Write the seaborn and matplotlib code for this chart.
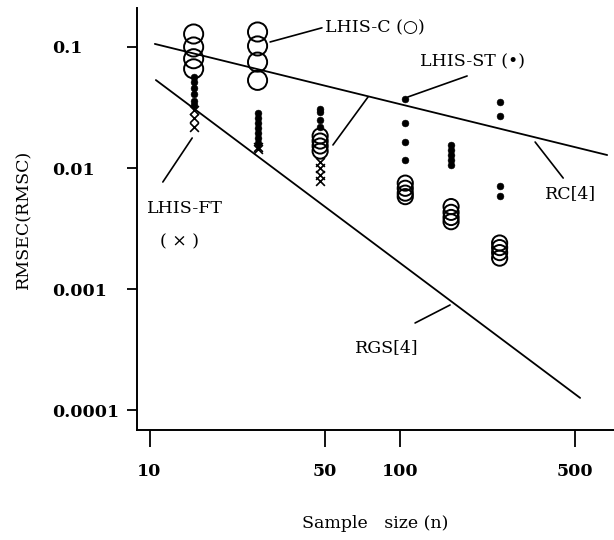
import numpy as np
import pandas as pd
import seaborn as sns
import matplotlib.pyplot as plt

# sample sizes of the six groups
n_groups = [15, 27, 48, 105, 160, 250]

# LHIS-C (open circles)
lhis_c_n = [15, 15, 15, 15, 27, 27, 27, 27, 48, 48, 48, 48,
            105, 105, 105, 105, 160, 160, 160, 160, 250, 250, 250, 250]
lhis_c_val = [0.128, 0.100, 0.080, 0.066, 0.133, 0.102, 0.075, 0.053,
              0.0184, 0.0167, 0.0152, 0.0138, 0.0075, 0.0068, 0.0062, 0.0058,
              0.0048, 0.0043, 0.0039, 0.0036, 0.0024, 0.0022, 0.0020, 0.0018]

# LHIS-ST (filled dots)
lhis_st_n = [15, 15, 15, 15, 15, 15,
             27, 27, 27, 27, 27, 27, 27,
             48, 48, 48, 48,
             105, 105, 105, 105,
             160, 160, 160, 160, 160,
             250, 250, 250, 250]
lhis_st_val = [0.057, 0.051, 0.046, 0.041, 0.036, 0.033,
               0.0285, 0.0259, 0.0235, 0.0214, 0.0195, 0.0177, 0.0161,
               0.031, 0.029, 0.025, 0.022,
               0.037, 0.0235, 0.0164, 0.0116,
               0.0155, 0.0141, 0.0128, 0.0116, 0.0106,
               0.035, 0.027, 0.0071, 0.0059]

# LHIS-FT (crosses)
lhis_ft_n = [15, 15, 15, 27, 27, 48, 48, 48, 48]
lhis_ft_val = [0.030, 0.026, 0.022, 0.015, 0.0143, 0.0112, 0.0100, 0.0088, 0.0078]

# reference lines
rc_n = [10.5, 672]
rc_val = [0.106, 0.0128]
rgs_n = [10.6, 524]
rgs_val = [0.0533, 0.000126]

x_ticks = [10, 50, 100, 500]
x_ticklabels = ["10", "50", "100", "500"]
y_ticks = [0.1, 0.01, 0.001, 0.0001]
y_ticklabels = ["0.1", "0.01", "0.001", "0.0001"]

# labels: (text, x, y)
labels = [
    ("LHIS-C (○)", 50.2, 0.144),
    ("LHIS-ST (•)", 120, 0.0752),
    ("RC[4]", 380, 0.0062),
    ("LHIS-FT", 9.77, 0.00467),
    ("( × )", 11.0, 0.00244),
    ("RGS[4]", 66.2, 0.000325),
]
# leader lines: ((x0, y0), (x1, y1))
leaders = [
    ((30.3, 0.110), (48.8, 0.144)),
    ((54.0, 0.0155), (74.6, 0.0387)),
    ((107.8, 0.0387), (185.4, 0.0576)),
    ((346.5, 0.0164), (448.5, 0.00826)),
    ((11.3, 0.00766), (14.8, 0.0177)),
    ((114.9, 0.000524), (158.5, 0.000738)),
]

sns.set_style("white")
plt.rcParams['font.family'] = ['DejaVu Serif', 'DejaVu Sans']
plt.rcParams['text.color'] = 'black'
plt.rcParams['axes.labelcolor'] = 'black'
plt.rcParams['xtick.color'] = 'black'
plt.rcParams['ytick.color'] = 'black'

fig = plt.figure(figsize=(6.14, 5.40), dpi=100)
ax = fig.add_axes([0.2231, 0.2037, 0.777, 0.7815])

circ = pd.DataFrame({"n": lhis_c_n, "val": lhis_c_val})
circ["big"] = circ["n"] < 30
sns.scatterplot(data=circ[circ["big"]], x="n", y="val", ax=ax, marker="o", s=190,
                facecolor="none", edgecolor="black", linewidth=1.4)
sns.scatterplot(data=circ[~circ["big"]], x="n", y="val", ax=ax, marker="o", s=120,
                facecolor="none", edgecolor="black", linewidth=1.4)

sns.scatterplot(x=lhis_st_n, y=lhis_st_val, ax=ax, marker="o", s=24,
                color="black", edgecolor="black")
sns.scatterplot(x=lhis_ft_n, y=lhis_ft_val, ax=ax, marker="x", s=40,
                color="black", linewidth=1.2)

sns.lineplot(x=rc_n, y=rc_val, ax=ax, color="black", linewidth=1.3)
sns.lineplot(x=rgs_n, y=rgs_val, ax=ax, color="black", linewidth=1.3)

for (x0, y0), (x1, y1) in leaders:
    ax.plot([x0, x1], [y0, y1], color="black", linewidth=1.2)

for txt, x, y in labels:
    ax.text(x, y, txt, ha="left", va="center", fontsize=12.5)

ax.set_xscale("log")
ax.set_yscale("log")
ax.set_xlim(8.91, 716)
ax.set_ylim(6.84e-5, 0.21)
ax.set_xticks(x_ticks)
ax.set_xticklabels(x_ticklabels, fontweight="bold", fontsize=12.5)
ax.set_yticks(y_ticks)
ax.set_yticklabels(y_ticklabels, fontweight="bold", fontsize=12.5, ha="left")
ax.minorticks_off()
ax.tick_params(axis="x", bottom=True, direction="out", length=12, width=1.3, pad=12)
ax.tick_params(axis="y", left=True, direction="out", length=7, width=1.3, pad=54)

sns.despine(ax=ax)
for sp in ["left", "bottom"]:
    ax.spines[sp].set_color("black")
    ax.spines[sp].set_linewidth(1.4)

ax.set_xlabel("Sample   size (n)", fontsize=12.5, labelpad=25)
ax.set_ylabel("RMSEC(RMSC)", fontsize=12.5, labelpad=14)

fig.savefig("out.png", dpi=100)
